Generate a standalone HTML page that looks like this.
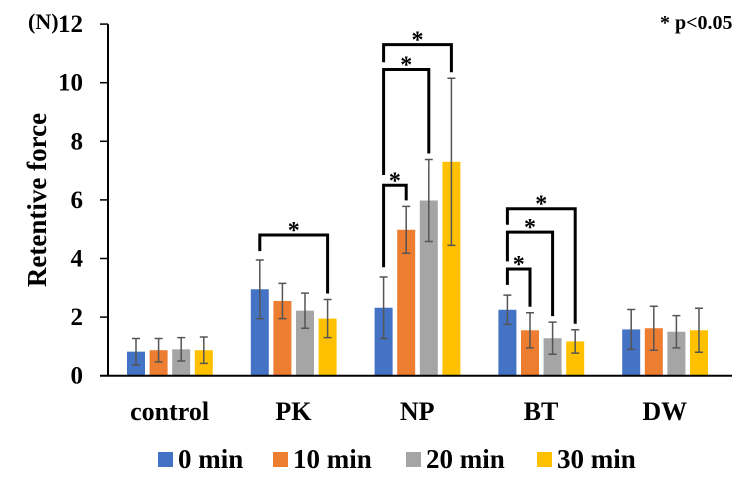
<!DOCTYPE html>
<html><head><meta charset="utf-8"><style>
body{margin:0;background:#fff;width:744px;height:482px;overflow:hidden}
text{font-family:"Liberation Serif",serif;font-weight:bold;fill:#000}
</style></head><body>
<svg id="chart" width="744" height="482" viewBox="0 0 744 482">
<text x="28" y="29" font-size="22">(N)</text>
<text x="660" y="29" font-size="20">* p&lt;0.05</text>
<text transform="translate(46,200) rotate(-90)" text-anchor="middle" font-size="27">Retentive force</text>
<g id="plot"></g>
</svg>
<script>
const categories=["control","PK","NP","BT","DW"];
const seriesNames=["0 min","10 min","20 min","30 min"];
const colors=["#4472C4","#ED7D31","#A5A5A5","#FFC000"];
const means=[[0.82,0.87,0.90,0.87],[2.95,2.55,2.22,1.95],[2.32,4.98,5.98,7.30],[2.25,1.55,1.28,1.17],[1.58,1.62,1.50,1.55]];
const errs=[[0.45,0.40,0.40,0.45],[1.00,0.60,0.60,0.65],[1.05,0.80,1.40,2.85],[0.50,0.60,0.55,0.40],[0.68,0.75,0.55,0.75]];
const yTicks=[0,2,4,6,8,10,12];
// brackets: [group, from series, to series, bracket value, left-leg bottom value]
const brackets=[[1,0,3,4.8,4.25],[2,0,1,6.5,3.7],[2,0,2,10.45,6.85],[2,0,3,11.3,10.7],[3,0,1,3.64,3.1],[3,0,2,4.9,3.9],[3,0,3,5.7,5.15]];
const NS="http://www.w3.org/2000/svg";
const g=document.getElementById('plot');
const y=v=>375.7-v*29.3;
const barX=(c,s)=>127+c*123.8+s*22.6;
const cx=(c,s)=>barX(c,s)+9;
function mk(t,a,p){const e=document.createElementNS(NS,t);for(const k in a)e.setAttribute(k,a[k]);(p||g).appendChild(e);return e;}
yTicks.forEach(v=>{
 const t=mk('text',{x:83,y:y(v)+8,'text-anchor':'end','font-size':25});t.textContent=v;
 
 
 const l=mk('line',{x1:100,x2:108,y1:y(v),y2:y(v),stroke:'#000','stroke-width':1.5});
 
 
});
const ya=mk('line',{x1:108,x2:108,y1:y(12),y2:y(0),stroke:'#000','stroke-width':2});


categories.forEach((c,ci)=>{
 means[ci].forEach((m,si)=>{
  const r=mk('rect',{x:barX(ci,si),y:y(m),width:18,height:y(0)-y(m),fill:colors[si]});
  
  
  const e=errs[ci][si],x=cx(ci,si);
  const eb=mk('path',{d:`M${x} ${y(m+e)}V${y(m-e)}M${x-4} ${y(m+e)}h8M${x-4} ${y(m-e)}h8`,stroke:'#555','stroke-width':1.5,fill:'none'});
  
  
 });
 const t=mk('text',{x:cx(ci,1)+11,y:420,'text-anchor':'middle','font-size':26});t.textContent=c;
 
 
});
const xa=mk('line',{x1:100,x2:732,y1:y(0),y2:y(0),stroke:'#000','stroke-width':2});


brackets.forEach(b=>{
 const [ci,a,z,v,lb]=b;const x1=cx(ci,a),x2=cx(ci,z),yy=y(v);
 const ta=means[ci][z]+errs[ci][z];
 const p=mk('path',{d:`M${x1} ${y(lb)}V${yy}H${x2}V${y(ta)-6}`,stroke:'#000','stroke-width':3,fill:'none'});
 
 
 const s=mk('text',{x:(x1+x2)/2,y:yy+3,'text-anchor':'middle','font-size':24,'font-weight':'normal'});s.textContent='*';
 
 
});
const lx=[158,273,406,537];
seriesNames.forEach((n,i)=>{
 const r=mk('rect',{x:lx[i],y:452,width:15,height:15,fill:colors[i]});
 
 
 const t=mk('text',{x:lx[i]+20,y:468,'font-size':27});t.textContent=n;
 
 
});
</script>
</body></html>
